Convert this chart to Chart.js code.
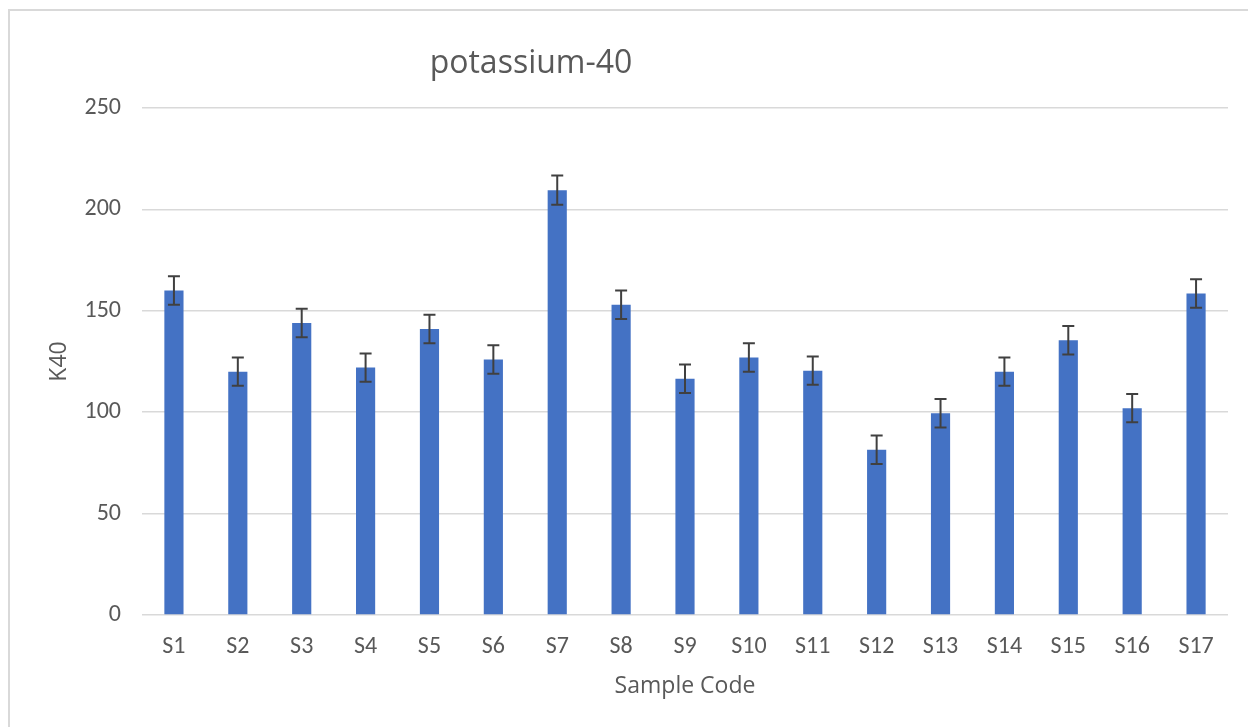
<!DOCTYPE html>
<html>
<head>
<meta charset="utf-8">
<script src="https://cdn.jsdelivr.net/npm/chart.js@4"></script>
<style>
  html, body { margin: 0; padding: 0; background: #fff; }
  #wrap { width: 1248px; height: 727px; position: relative; }
</style>
</head>
<body>
<div id="wrap"><canvas id="k40Chart"></canvas></div>
<script>
// sample codes and K40 values
const samples = ['S1','S2','S3','S4','S5','S6','S7','S8','S9','S10','S11','S12','S13','S14','S15','S16','S17'];
const k40 = [160, 120, 144, 122, 141, 126, 209.5, 153, 116.5, 127, 120.5, 81.5, 99.5, 120, 135.5, 102, 158.5];
const k40Err = [7, 7, 7, 7, 7, 7, 7.2, 7, 7, 7, 7, 7, 7, 7, 7, 7, 7];
const yTicks = [0, 50, 100, 150, 200, 250];

const textColor = '#595959';

// frame of the chart and the title, drawn by hand like the spreadsheet export
const framePlugin = {
  id: 'frame',
  beforeDraw(chart) {
    const ctx = chart.ctx;
    ctx.save();
    ctx.fillStyle = '#fff';
    ctx.fillRect(0, 0, chart.width, chart.height);
    ctx.strokeStyle = '#d9d9d9';
    ctx.lineWidth = 2;
    ctx.strokeRect(9, 10, chart.width + 50, chart.height + 50);
    ctx.fillStyle = textColor;
    ctx.font = '32px "Open Sans"';
    ctx.textAlign = 'center';
    ctx.textBaseline = 'alphabetic';
    ctx.fillText('potassium-40', 531, 73);
    ctx.restore();
  }
};

// error bars from the y scale
const errorBarPlugin = {
  id: 'errorBars',
  afterDatasetsDraw(chart) {
    const ctx = chart.ctx;
    const y = chart.scales.y;
    const meta = chart.getDatasetMeta(0);
    ctx.save();
    ctx.strokeStyle = '#404040';
    ctx.lineWidth = 2;
    meta.data.forEach((bar, i) => {
      const top = y.getPixelForValue(k40[i] + k40Err[i]);
      const bot = y.getPixelForValue(k40[i] - k40Err[i]);
      const x = bar.x;
      ctx.beginPath();
      ctx.moveTo(x, top); ctx.lineTo(x, bot);
      ctx.moveTo(x - 6, top); ctx.lineTo(x + 6, top);
      ctx.moveTo(x - 6, bot); ctx.lineTo(x + 6, bot);
      ctx.stroke();
    });
    ctx.restore();
  }
};

new Chart(document.getElementById('k40Chart'), {
  type: 'bar',
  data: {
    labels: samples,
    datasets: [{
      label: 'K40',
      data: k40,
      backgroundColor: '#4472C4',
      borderWidth: 0,
      categoryPercentage: 1,
      barPercentage: 0.3
    }]
  },
  options: {
    responsive: true,
    maintainAspectRatio: false,
    animation: false,
    layout: { padding: { left: 0, top: 108, right: 20, bottom: 0 } },
    plugins: {
      legend: { display: false },
      tooltip: { enabled: false }
    },
    scales: {
      x: {
        grid: { display: false },
        border: { display: false },
        ticks: { color: textColor, font: { family: 'Carlito, Lato', size: 24 }, padding: 10, maxRotation: 0 },
        title: { display: true, text: 'Sample Code', color: textColor, font: { family: '"Open Sans"', size: 23 }, padding: { top: 0, bottom: 27 } },
        afterFit: s => { s.height = 112; }
      },
      y: {
        min: 0,
        max: 250,
        afterBuildTicks: s => { s.ticks = yTicks.map(v => ({ value: v })); },
        grid: { color: '#d9d9d9', lineWidth: 1.5, drawTicks: false },
        border: { display: false },
        ticks: { color: textColor, font: { family: 'Carlito, Lato', size: 24 }, padding: 21 },
        title: { display: true, text: 'K40', color: textColor, font: { family: '"Open Sans"', size: 23 }, padding: { top: 46, bottom: 0 } },
        afterFit: s => { s.width = 142; }
      }
    }
  },
  plugins: [framePlugin, errorBarPlugin]
});
</script>
</body>
</html>
